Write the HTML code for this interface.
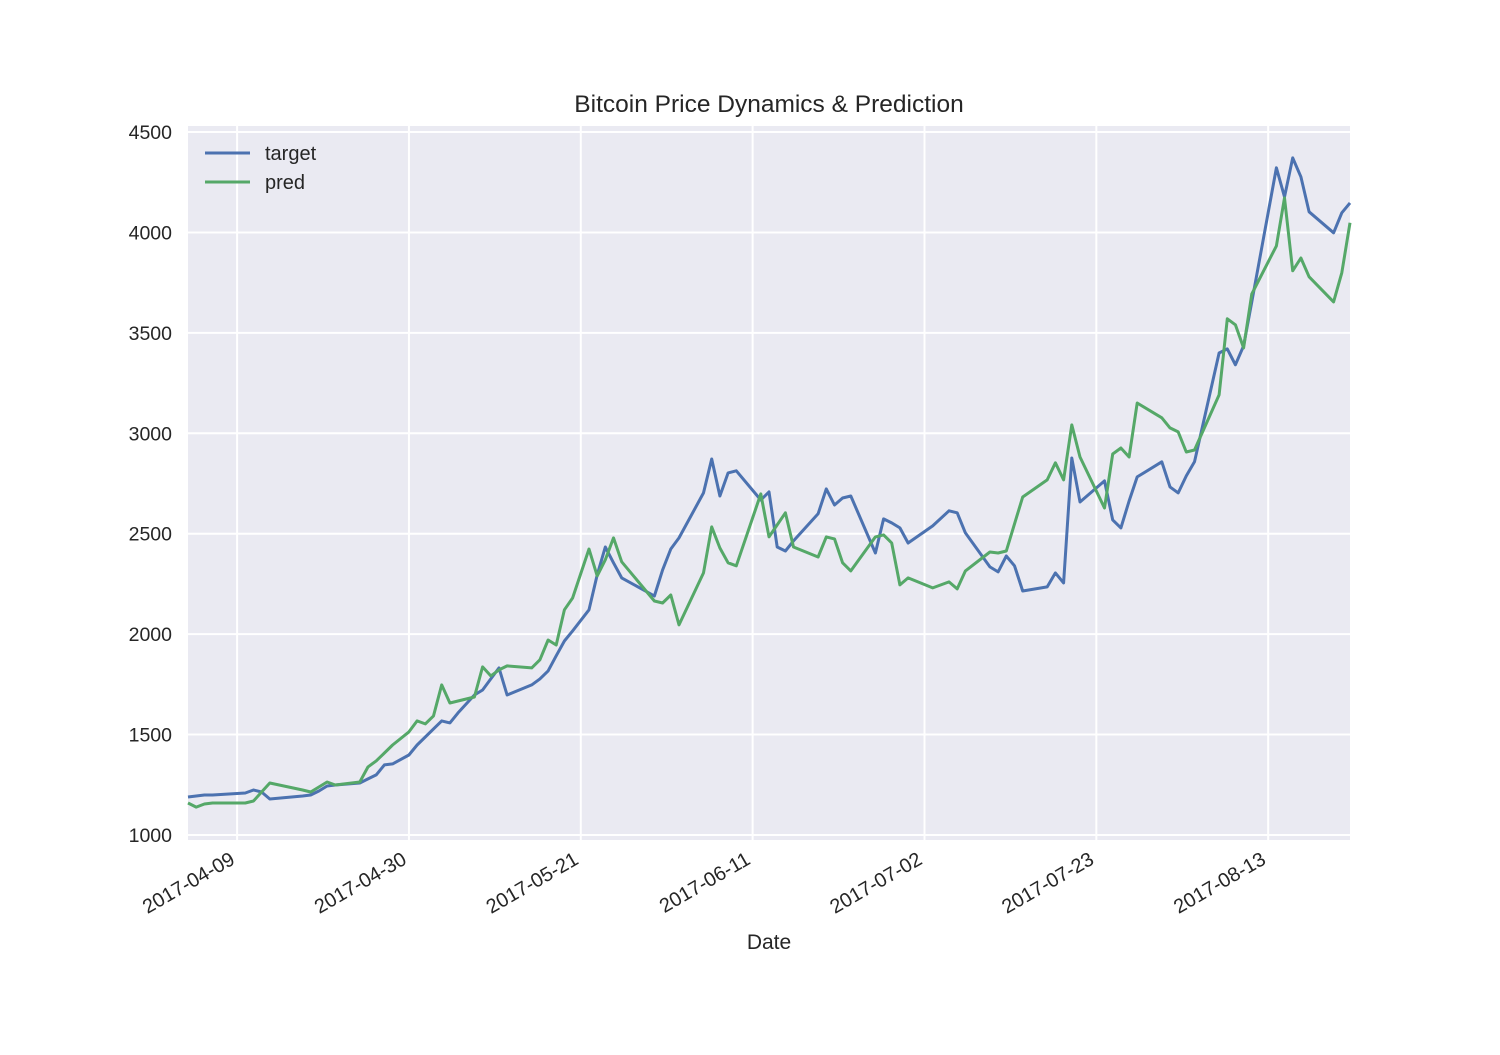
<!DOCTYPE html>
<html><head><meta charset="utf-8"><style>
html,body{margin:0;padding:0;background:#fff;}
svg text{font-family:"Liberation Sans","DejaVu Sans",sans-serif;fill:#262626;}
</style></head><body>
<svg id="chart" width="1500" height="1050" xmlns="http://www.w3.org/2000/svg">
<rect width="1500" height="1050" fill="#fff"/>
<rect x="188" y="126" width="1162" height="714" fill="#EAEAF2"/>
<g id="grid"></g>
<g id="series"></g>
<g id="ticks"></g>
<text x="769" y="112" text-anchor="middle" font-size="24.5">Bitcoin Price Dynamics &amp; Prediction</text>
<text x="769" y="949" text-anchor="middle" font-size="21">Date</text>
<g>
<line x1="205" y1="153" x2="250" y2="153" stroke="#4C72B0" stroke-width="3"/>
<text x="265" y="160" font-size="20">target</text>
<line x1="205" y1="182" x2="250" y2="182" stroke="#55A868" stroke-width="3"/>
<text x="265" y="189" font-size="20">pred</text>
</g>
</svg>
<script>
// day offsets from 2017-04-03
const days = [0,1,2,3,7,8,9,10,14,15,16,17,18,21,22,23,24,25,27,28,29,30,31,32,33,35,36,37,38,39,42,43,44,45,46,47,49,50,51,52,53,57,58,59,60,63,64,65,66,67,70,71,72,73,74,77,78,79,80,81,84,85,86,87,88,91,93,94,95,98,99,100,101,102,105,106,107,108,109,112,113,114,115,116,119,120,121,122,123,126,127,128,129,130,133,134,135,136,137,140,141,142];
const target = [1189,1194,1199,1199,1209,1224,1214,1179,1194,1199,1219,1244,1249,1259,1279,1299,1349,1354,1398,1448,1488,1528,1568,1558,1608,1697,1722,1777,1832,1697,1747,1777,1817,1892,1966,2016,2121,2295,2434,2355,2280,2190,2320,2424,2479,2703,2872,2688,2803,2813,2668,2708,2434,2414,2464,2599,2723,2643,2678,2688,2404,2574,2554,2529,2454,2539,2614,2604,2504,2335,2310,2389,2340,2215,2235,2305,2255,2877,2658,2763,2569,2529,2663,2783,2858,2733,2703,2788,2858,3400,3420,3341,3435,3654,4322,4177,4371,4277,4103,3998,4098,4147];
const pred = [1159,1139,1154,1159,1159,1169,1214,1259,1224,1214,1239,1264,1249,1264,1339,1369,1408,1448,1513,1568,1553,1593,1747,1657,1667,1687,1837,1792,1822,1842,1832,1872,1971,1946,2121,2180,2424,2290,2370,2479,2360,2165,2155,2195,2046,2305,2534,2429,2355,2340,2698,2484,2544,2604,2434,2384,2484,2474,2355,2315,2484,2494,2454,2245,2280,2230,2260,2225,2315,2409,2404,2414,2549,2683,2768,2853,2768,3042,2882,2628,2897,2927,2882,3151,3077,3027,3007,2907,2917,3191,3570,3540,3425,3694,3933,4172,3809,3873,3779,3654,3799,4048];
const yTicks = [1000,1500,2000,2500,3000,3500,4000,4500];
const xTickDays = [6,27,48,69,90,111,132];
const xTickLabels = ["2017-04-09","2017-04-30","2017-05-21","2017-06-11","2017-07-02","2017-07-23","2017-08-13"];

const X0=188, X1=1350, Y0=126, Y1=840;
const dMin=0, dMax=142, vMin=975, vMax=4530;
function xs(d){return X0+(d-dMin)/(dMax-dMin)*(X1-X0);}
function ys(v){return Y1-(v-vMin)/(vMax-vMin)*(Y1-Y0);}
const NS="http://www.w3.org/2000/svg";
const grid=document.getElementById('grid'), ticks=document.getElementById('ticks'), series=document.getElementById('series');

yTicks.forEach(v=>{
  const y=ys(v);
  const l=document.createElementNS(NS,'line');
  l.setAttribute('x1',X0);l.setAttribute('x2',X1);l.setAttribute('y1',y);l.setAttribute('y2',y);
  l.setAttribute('stroke','#fff');l.setAttribute('stroke-width','2');
  
  
  grid.appendChild(l);
  const t=document.createElementNS(NS,'text');
  t.setAttribute('x',172);t.setAttribute('y',y+7);t.setAttribute('text-anchor','end');t.setAttribute('font-size','19.5');
  t.textContent=v;
  
  
  ticks.appendChild(t);
});
xTickDays.forEach((d,i)=>{
  const x=xs(d);
  const l=document.createElementNS(NS,'line');
  l.setAttribute('x1',x);l.setAttribute('x2',x);l.setAttribute('y1',Y0);l.setAttribute('y2',Y1);
  l.setAttribute('stroke','#fff');l.setAttribute('stroke-width','2');
  
  
  grid.appendChild(l);
  const t=document.createElementNS(NS,'text');
  t.setAttribute('transform','translate('+(x-1)+',863) rotate(-30)');
  t.setAttribute('text-anchor','end');t.setAttribute('font-size','20');
  t.textContent=xTickLabels[i];
  
  
  ticks.appendChild(t);
});
function drawLine(vals,color,name){
  const p=document.createElementNS(NS,'polyline');
  p.setAttribute('points',days.map((d,i)=>xs(d).toFixed(1)+','+ys(vals[i]).toFixed(1)).join(' '));
  p.setAttribute('fill','none');p.setAttribute('stroke',color);p.setAttribute('stroke-width','3');
  p.setAttribute('stroke-linejoin','round');
  
  
  series.appendChild(p);
}
drawLine(target,'#4C72B0','target-line');
drawLine(pred,'#55A868','pred-line');
</script>
</body></html>
